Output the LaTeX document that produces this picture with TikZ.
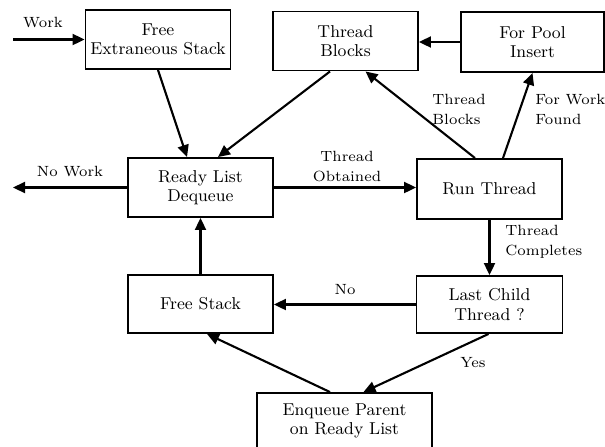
\documentclass[tikz,border=0pt]{standalone}
\usetikzlibrary{arrows.meta,calc}
\begin{document}
\begin{tikzpicture}[x=0.5pt,y=-0.5pt,
  box/.style={draw,line width=0.95pt,minimum width=72.5pt,minimum height=29.5pt,
    align=center,inner sep=1pt,font=\fontsize{8.6}{9.6}\selectfont},
  lbl/.style={font=\fontsize{7.4}{10}\selectfont,inner sep=0pt},
  flow/.style={line width=1.05pt,-{Triangle[length=6pt,width=5.5pt]}}]
\useasboundingbox (0,0) rectangle (605,446);
% process boxes
\node[box] (fes) at (158,39.5) {Free\\Extraneous Stack};
\node[box] (tb)  at (345.5,41) {Thread\\Blocks};
\node[box,minimum width=71.5pt,minimum height=30pt] (fpi) at (532.5,42) {For Pool\\Insert};
\node[box] (rld) at (200.5,187.5) {Ready List\\Dequeue};
\node[box,minimum height=30pt] (run) at (489.5,189) {Run Thread};
\node[box,minimum width=73pt,minimum height=28.5pt] (lct) at (489.5,304.5) {Last Child\\Thread ?};
\node[box,minimum height=29pt] (fs)  at (200.5,304) {Free Stack};
\node[box,minimum width=87.5pt,minimum height=28pt] (enq) at (344.5,421) {Enqueue Parent\\on Ready List};
% free ends
\coordinate (win) at (13,40);
\coordinate (wout) at (13,188);
% connectors
\draw[flow] (win |- fes.west) -- (fes.west);
\draw[flow] (fes.south) -- ($(rld.north)+(-13.5,0)$);
\draw[flow] ($(tb.south)+(-15.5,0)$) -- ($(rld.north)+(17.5,0)$);
\draw[flow] (fpi.west) -- (fpi.west -| tb.east);
\draw[flow] ($(run.north)+(-14.5,0)$) -- ($(tb.south)+(20,0)$);
\draw[flow] ($(run.north)+(13.5,0)$) -- (fpi.south);
\draw[flow] (rld.east) -- (rld.east -| run.west);
\draw[flow] (rld.west) -- (rld.west -| wout);
\draw[flow] (fs.north) -- (rld.south);
\draw[flow] (run.south) -- (run.south |- lct.north);
\draw[flow] (lct.west) -- (lct.west -| fs.east);
\draw[flow] ($(lct.south)+(-1,0)$) -- ($(enq.north)+(19,0)$);
\draw[flow] ($(enq.north)+(-14.5,0)$) -- ($(fs.south)+(6.5,0)$);
% connector labels
\node[lbl] (lwork) at (43,23) {Work};
\node[lbl] (lnowork) at (70,172) {No Work};
\node[lbl,align=center] (lobt) at (347,167) {Thread\\Obtained};
\node[lbl,align=left,anchor=west] (lblk) at (432,109) {Thread\\Blocks};
\node[lbl,align=left,anchor=west] (lfound) at (535,109) {For Work\\Found};
\node[lbl,align=left,anchor=west] (lcomp) at (505,242) {Thread\\Completes};
\node[lbl] (lno) at (345,290) {No};
\node[lbl] (lyes) at (473,363) {Yes};
\end{tikzpicture}
\end{document}
